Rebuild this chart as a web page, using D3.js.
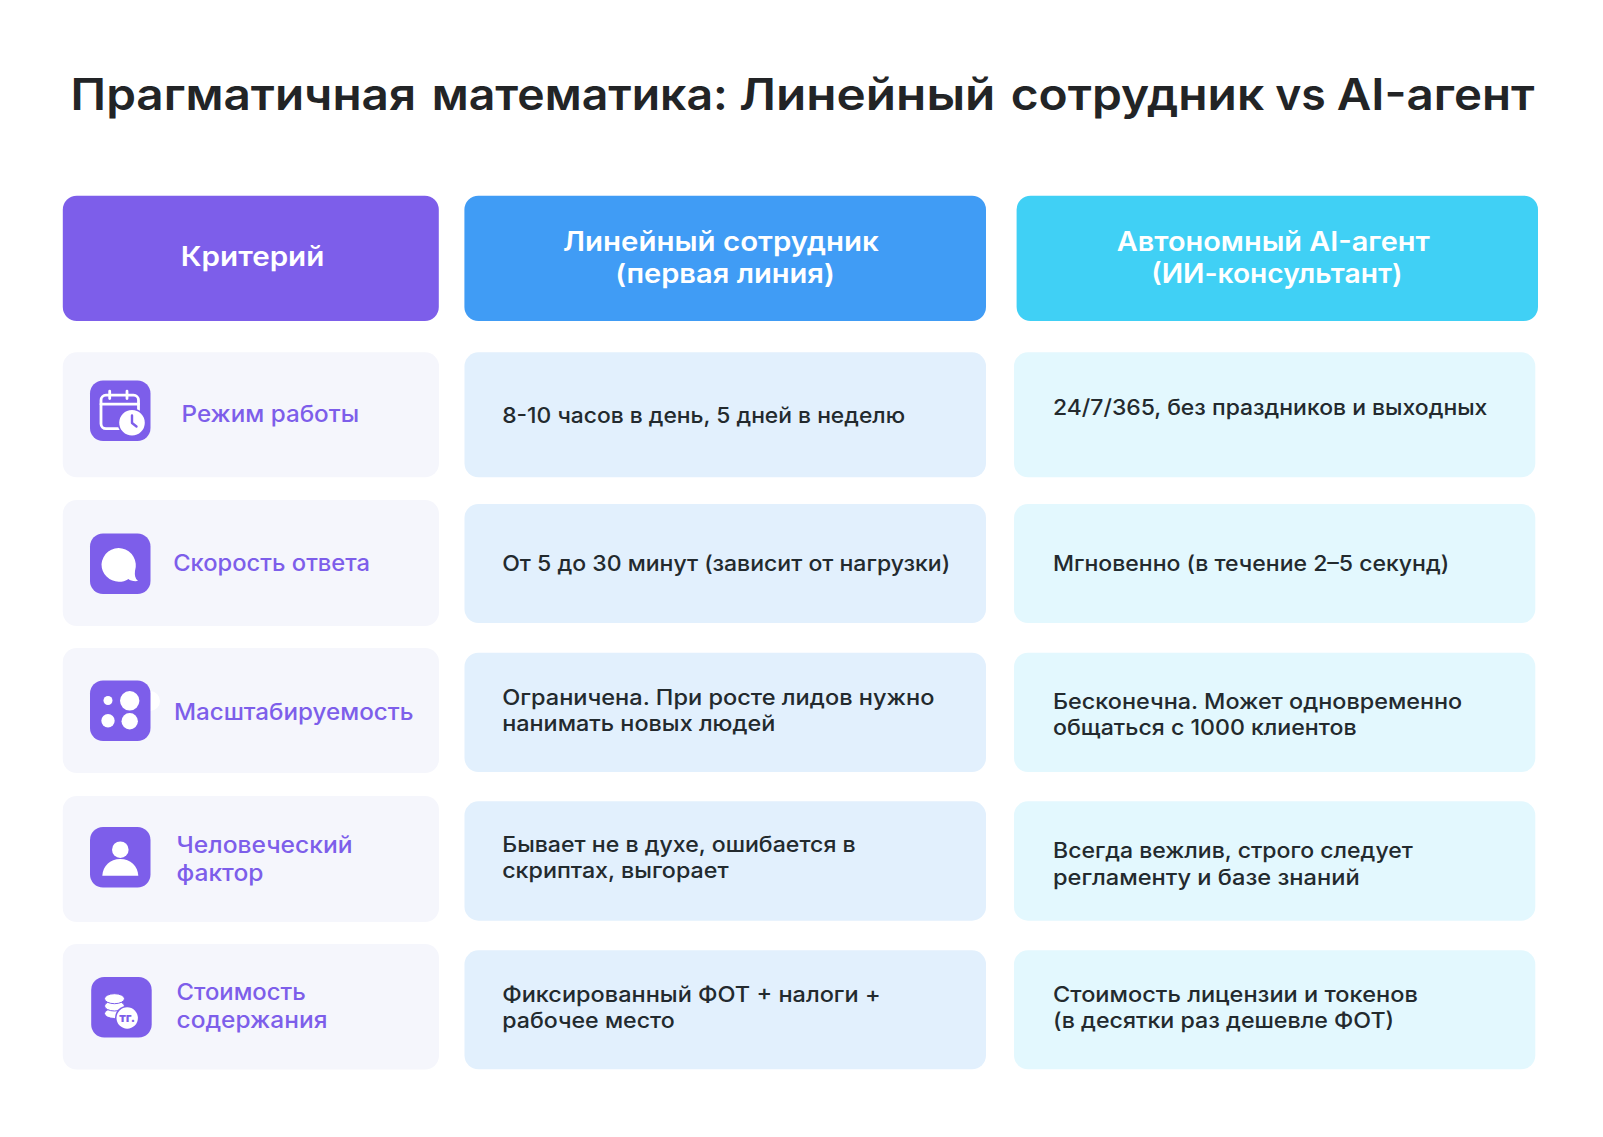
<!DOCTYPE html>
<html>
<head>
<meta charset="utf-8">
<script src="https://cdn.jsdelivr.net/npm/d3@7"></script>
<style>
    html, body { margin: 0; background: #fff; }
    svg { display: block; }
    text { font-family: Inter, "Noto Sans", sans-serif; }
</style>
</head>
<body>
<div id="chart-area"></div>
<script>
var titleWords = ["Прагматичная", "математика:", "Линейный", "сотрудник", "vs", "AI-агент"];

var columns = ["criterion", "employee", "agent"];
var rows = ["schedule", "speed", "scale", "human", "cost"];

var headers = [
    ["Критерий"],
    ["Линейный сотрудник", "(первая линия)"],
    ["Автономный AI-агент", "(ИИ-консультант)"]
];
var criteria = [
    ["Режим работы"],
    ["Скорость ответа"],
    ["Масштабируемость"],
    ["Человеческий", "фактор"],
    ["Стоимость", "содержания"]
];
var employee = [
    ["8-10 часов в день, 5 дней в неделю"],
    ["От 5 до 30 минут (зависит от нагрузки)"],
    ["Ограничена. При росте лидов нужно", "нанимать новых людей"],
    ["Бывает не в духе, ошибается в", "скриптах, выгорает"],
    ["Фиксированный ФОТ + налоги +", "рабочее место"]
];
var agent = [
    ["24/7/365, без праздников и выходных"],
    ["Мгновенно (в течение 2–5 секунд)"],
    ["Бесконечна. Может одновременно", "общаться с 1000 клиентов"],
    ["Всегда вежлив, строго следует", "регламенту и базе знаний"],
    ["Стоимость лицензии и токенов", "(в десятки раз дешевле ФОТ)"]
];

// layout, kept apart from the content above
var titleX = [71.4, 432.6, 739.8, 1011.5, 1276, 1337.6];
var titleEnd = [415.3, 727, 994.6, 1263.4, 1325, 1533.7];
var headerLeft = [62.8, 464.4, 1016.6], headerRight = [438.8, 986, 1538];
var cardLeft = [62.8, 464.5, 1014], cardRight = [439, 986, 1535.3];
var cardTop = [
    [352.3, 500, 648, 796, 944],
    [352.3, 504, 652.7, 801.3, 950.3],
    [352.3, 504, 652.7, 801.3, 950.3]
];
var cardBottom = [
    [477.3, 626, 773, 922, 1069.5],
    [477.3, 623, 772, 920.7, 1069.3],
    [477.3, 623, 772, 920.7, 1069.3]
];
var headerX = [[181.6], [563.8, 616], [1117.5, 1152]];
var headerEnd = [[323.5], [878, 834], [1429, 1401.6]];
var headerBase = [[266], [250.5, 283], [250.5, 283]];
var criteriaX = [182.3, 174, 174.7, 177.3, 177.3];
var criteriaEnd = [[358.3], [369.3], [412.7], [351.7, 262.7], [305, 326.7]];
var criteriaBase = [[422.3], [571], [720], [852.7, 880.7], [1000, 1028]];
var employeeEnd = [[904.3], [949.4], [933.7, 774.5], [854.9, 727.8], [879.8, 673.9]];
var employeeBase = [[423.3], [571], [705, 731], [852.3, 878], [1002.3, 1028.3]];
var agentEnd = [[1486.6], [1448.4], [1461.4, 1355.8], [1412, 1358.8], [1417, 1393.3]];
var agentBase = [[415], [571], [709, 735], [858.3, 885], [1002.3, 1028.3]];
var iconX = [90, 90, 90, 90, 91.2];
var iconY = [380.5, 533.5, 680.5, 827, 977];

var purple = "#7d5eea", ink = "#232a2e";
var headerFill = d3.scaleOrdinal().domain(columns).range([purple, "#409cf5", "#40d0f5"]);
var cardFill = d3.scaleOrdinal().domain(columns).range(["#f5f6fc", "#e2f0fd", "#e3f8fe"]);
var left = d3.scaleOrdinal().domain(columns).range(cardLeft);
var right = d3.scaleOrdinal().domain(columns).range(cardRight);

var svg = d3.select("#chart-area").append("svg")
    .attr("width", 1603)
    .attr("height", 1137);

svg.append("rect").attr("width", 1603).attr("height", 1137).attr("fill", "#fff");

// one fitted line of text, squeezed to the width it has in the picture
// (the measured ends are ink edges, the advance box is a bit wider)
function fitted(g, str, x, end, base, size, weight, fill) {
    g.append("text")
        .attr("x", x - 0.8)
        .attr("y", base)
        .attr("font-size", size)
        .attr("font-weight", weight)
        .attr("fill", fill)
        .attr("textLength", end - x + 1.6)
        .attr("lengthAdjust", "spacingAndGlyphs")
        .text(str);
}

// title stays one text, fitted word by word
var titleText = svg.append("text")
    .attr("y", 110)
    .attr("font-size", 43.6)
    .attr("font-weight", 600)
    .attr("fill", "#222426");
titleWords.forEach(function(word, i) {
    titleText.append("tspan")
        .attr("x", titleX[i] - 0.8)
        .attr("textLength", titleEnd[i] - titleX[i] + 1.6)
        .attr("lengthAdjust", "spacingAndGlyphs")
        .text(word);
    if (i < titleWords.length - 1) {
        titleText.node().appendChild(document.createTextNode(" "));
    }
});

// header row
svg.append("g").selectAll("rect")
    .data(columns).enter()
    .append("rect")
        .attr("x", function(d, i) { return headerLeft[i]; })
        .attr("y", 195.7)
        .attr("width", function(d, i) { return headerRight[i] - headerLeft[i]; })
        .attr("height", 125.3)
        .attr("rx", 14)
        .attr("fill", function(d) { return headerFill(d); });

headers.forEach(function(lines, c) {
    lines.forEach(function(str, l) {
        fitted(svg, str, headerX[c][l], headerEnd[c][l], headerBase[c][l], 26.5, 600, "#fff");
    });
});

// body cards
columns.forEach(function(col, c) {
    svg.append("g").selectAll("rect")
        .data(rows).enter()
        .append("rect")
            .attr("x", left(col))
            .attr("y", function(d, r) { return cardTop[c][r]; })
            .attr("width", right(col) - left(col))
            .attr("height", function(d, r) { return cardBottom[c][r] - cardTop[c][r]; })
            .attr("rx", 14)
            .attr("fill", cardFill(col));
});

criteria.forEach(function(lines, r) {
    lines.forEach(function(str, l) {
        fitted(svg, str, criteriaX[r], criteriaEnd[r][l], criteriaBase[r][l], 23, 500, purple);
    });
});
employee.forEach(function(lines, r) {
    lines.forEach(function(str, l) {
        fitted(svg, str, 503, employeeEnd[r][l], employeeBase[r][l], 21.6, 500, ink);
    });
});
agent.forEach(function(lines, r) {
    lines.forEach(function(str, l) {
        fitted(svg, str, 1053.8, agentEnd[r][l], agentBase[r][l], 21.6, 500, ink);
    });
});

// the little white blob poking out behind the third icon
svg.append("circle")
    .attr("cx", 150).attr("cy", 701).attr("r", 10).attr("fill", "#fff");

// icons, each drawn in its own 60px box
var icons = svg.append("g").selectAll("g")
    .data(rows).enter()
    .append("g")
        .attr("transform", function(d, i) { return "translate(" + iconX[i] + " " + iconY[i] + ")"; });

icons.append("rect")
    .attr("width", 60.5)
    .attr("height", 60.5)
    .attr("rx", 13)
    .attr("fill", purple);

function iconOf(name) { return icons.filter(function(d) { return d == name; }); }

// calendar with clock
var cal = iconOf("schedule");
cal.append("rect").attr("x", 11).attr("y", 14.7).attr("width", 37.5).attr("height", 33.5).attr("rx", 5)
    .attr("fill", "none").attr("stroke", "#fff").attr("stroke-width", 2.8);
cal.append("path").attr("d", "M11 23.7H48.5M19.7 10.7V18M37 10.7V18")
    .attr("fill", "none").attr("stroke", "#fff").attr("stroke-width", 2.8).attr("stroke-linecap", "round");
cal.append("circle").attr("cx", 42).attr("cy", 42.3).attr("r", 14.4).attr("fill", purple);
cal.append("circle").attr("cx", 42).attr("cy", 42.3).attr("r", 12.8).attr("fill", "#fff");
cal.append("path").attr("d", "M42 35V42.5L46.5 46")
    .attr("fill", "none").attr("stroke", purple).attr("stroke-width", 2.4).attr("stroke-linecap", "round").attr("stroke-linejoin", "round");

// chat bubble
var chat = iconOf("speed");
chat.append("path").attr("d", "M11.5 30.7A17.2 17.5 0 1 1 45 37.5C44.5 41.5 45 45 48 47.5C43.5 48 40 47 38.5 45.4C35.5 47.5 32.5 48.2 28.7 48.2A17.2 17.5 0 0 1 11.5 30.7Z")
    .attr("fill", "#fff");

// four dots
var dots = iconOf("scale");
dots.selectAll("circle")
    .data([[18, 20, 4.5], [39.7, 20.3, 9.7], [18, 40.3, 6.7], [39.7, 40.7, 8.2]]).enter()
    .append("circle")
        .attr("cx", function(d) { return d[0]; })
        .attr("cy", function(d) { return d[1]; })
        .attr("r", function(d) { return d[2]; })
        .attr("fill", "#fff");

// person
var person = iconOf("human");
person.append("path").attr("d", "M12.3 48.7C12.8 39 20 32 30.3 32C40.6 32 47.8 39 48.3 48.7Z").attr("fill", "#fff");
person.append("circle").attr("cx", 30.3).attr("cy", 22.7).attr("r", 8.3)
    .attr("fill", "#fff").attr("stroke", purple).attr("stroke-width", 2).attr("paint-order", "stroke");

// coins with the tenge badge
var coins = iconOf("cost");
coins.selectAll("ellipse")
    .data([36.5, 29, 21.7]).enter()
    .append("ellipse")
        .attr("cx", 23.3)
        .attr("cy", function(d) { return d; })
        .attr("rx", 10)
        .attr("ry", 5)
        .attr("fill", "#fff")
        .attr("stroke", purple)
        .attr("stroke-width", 1);
coins.append("circle").attr("cx", 36).attr("cy", 41).attr("r", 12.2).attr("fill", purple);
coins.append("circle").attr("cx", 36).attr("cy", 41).attr("r", 10.7).attr("fill", "#fff");
coins.append("text")
    .attr("x", 36)
    .attr("y", 45)
    .attr("text-anchor", "middle")
    .attr("font-size", 12.5)
    .attr("font-weight", 800)
    .attr("fill", purple)
    .text("тг.");
</script>
</body>
</html>
